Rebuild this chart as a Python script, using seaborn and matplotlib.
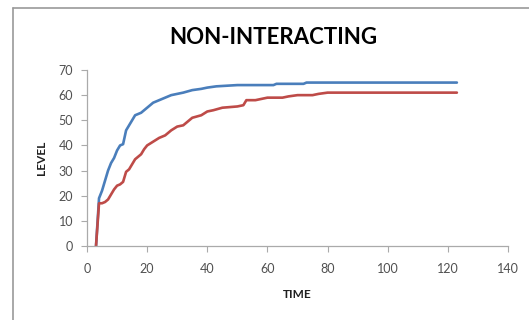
import matplotlib
matplotlib.use("Agg")
import matplotlib.pyplot as plt
import seaborn as sns
import pandas as pd

# Readings of the two level curves over time
time_blue = [3, 4, 5, 6, 7, 8, 9, 10, 11, 12, 13, 14, 15, 16, 17, 18, 19, 20, 22, 24,
             26, 28, 30, 32, 35, 38, 40, 43, 50, 62, 63, 72, 73, 123]
level_blue = [0, 19, 22, 26, 30, 33, 35, 38, 40, 40.5, 46, 48, 50, 52, 52.5, 53, 54, 55, 57, 58,
              59, 60, 60.5, 61, 62, 62.5, 63, 63.5, 64, 64, 64.5, 64.5, 65, 65]

time_red = [3, 4, 5, 6, 7, 8, 9, 10, 11, 12, 13, 14, 15, 16, 17, 18, 19, 20, 22, 24,
            26, 28, 30, 32, 34, 35, 38, 40, 42, 45, 50, 52, 53, 56, 58, 60, 65, 67, 70, 75,
            77, 80, 123]
level_red = [0, 17, 17, 17.5, 18.5, 20.5, 22.5, 24, 24.5, 25.5, 29.5, 30.5, 32.5, 34.5, 35.5,
             36.5, 38.5, 40, 41.5, 43, 44, 46, 47.5, 48, 50, 51, 52, 53.5, 54, 55, 55.5, 56,
             58, 58, 58.5, 59, 59, 59.5, 60, 60, 60.5, 61, 61]

x_ticks = [0, 20, 40, 60, 80, 100, 120, 140]
y_ticks = [0, 10, 20, 30, 40, 50, 60, 70]

sns.set_theme(style="white")
plt.rcParams["font.family"] = ["Lato", "DejaVu Sans"]

fig = plt.figure(figsize=(5.29, 3.2), dpi=100)
ax = fig.add_axes([87 / 529, 1 - 246 / 320, (508 - 87) / 529, (246 - 70) / 320])

df_blue = pd.DataFrame({"TIME": time_blue, "LEVEL": level_blue})
df_red = pd.DataFrame({"TIME": time_red, "LEVEL": level_red})
sns.lineplot(data=df_blue, x="TIME", y="LEVEL", ax=ax, color="#4a7ebb", linewidth=1.9)
sns.lineplot(data=df_red, x="TIME", y="LEVEL", ax=ax, color="#be4b48", linewidth=1.9)

ax.set_xlim(0, 140)
ax.set_ylim(0, 70)
ax.set_xticks(x_ticks)
ax.set_yticks(y_ticks)
ax.tick_params(axis="both", labelsize=9, colors="#505050", length=4, width=0.8,
               direction="out", color="#aaaaaa")
ax.tick_params(axis="y", length=4, pad=6)
ax.tick_params(axis="x", pad=8)
for s in ["top", "right"]:
    ax.spines[s].set_visible(False)
for s in ["left", "bottom"]:
    ax.spines[s].set_color("#aaaaaa")
    ax.spines[s].set_linewidth(0.9)
ax.xaxis.set_ticks_position("bottom")
ax.yaxis.set_ticks_position("left")

ax.set_xlabel("TIME", fontsize=8.5, fontweight="bold", color="#202020", labelpad=10)
ax.set_ylabel("LEVEL", fontsize=8.5, fontweight="bold", color="#202020", labelpad=8)

fig.text(273 / 529, 1 - 37 / 320, "NON-INTERACTING", ha="center", va="center",
         fontsize=16, fontweight="bold", color="#000000")

# Outer chart frame
fig.add_artist(plt.Line2D([13 / 529, 13 / 529], [0, 1 - 8 / 320], transform=fig.transFigure,
                          color="#999999", linewidth=1.2))
fig.add_artist(plt.Line2D([13 / 529, 1], [1 - 8 / 320, 1 - 8 / 320], transform=fig.transFigure,
                          color="#999999", linewidth=1.2))

fig.savefig("out.png", dpi=100)
